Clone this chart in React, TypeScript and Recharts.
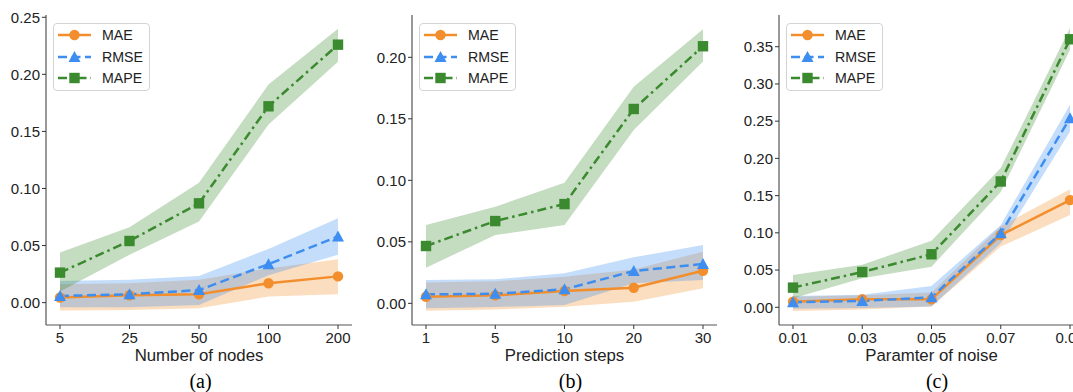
import { ComposedChart, Line, Area, XAxis, YAxis, Legend, Label } from 'recharts'

// (a) number of nodes
const nodeTicks = ['5', '25', '50', '100', '200']
const maeA = [0.0045, 0.0065, 0.0073, 0.017, 0.023]
const maeALow = [-0.007, -0.0065, -0.005, 0.0053, 0.0074]
const maeAHigh = [0.016, 0.017, 0.02, 0.03, 0.038]
const rmseA = [0.0059, 0.0073, 0.011, 0.0337, 0.058]
const rmseALow = [-0.004, -0.004, -0.002, 0.024, 0.042]
const rmseAHigh = [0.019, 0.02, 0.0234, 0.047, 0.074]
const mapeA = [0.0263, 0.054, 0.087, 0.172, 0.226]
const mapeALow = [0.0097, 0.042, 0.071, 0.156, 0.211]
const mapeAHigh = [0.044, 0.066, 0.105, 0.191, 0.24]

// (b) prediction steps
const stepTicks = ['1', '5', '10', '20', '30']
const maeB = [0.0054, 0.0065, 0.01, 0.0127, 0.0265]
const maeBLow = [-0.006, -0.005, -0.0028, 0.0013, 0.0122]
const maeBHigh = [0.017, 0.018, 0.0216, 0.0276, 0.042]
const rmseB = [0.0073, 0.0078, 0.0114, 0.0263, 0.032]
const rmseBLow = [-0.004, -0.003, -0.0014, 0.0163, 0.019]
const rmseBHigh = [0.019, 0.0195, 0.0244, 0.0374, 0.0474]
const mapeB = [0.0466, 0.0669, 0.0807, 0.158, 0.209]
const mapeBLow = [0.029, 0.0555, 0.0637, 0.141, 0.1965]
const mapeBHigh = [0.0637, 0.0785, 0.098, 0.176, 0.2228]

// (c) noise parameter
const noiseTicks = ['0.01', '0.03', '0.05', '0.07', '0.09']
const maeC = [0.0075, 0.0107, 0.0107, 0.097, 0.144]
const maeCLow = [-0.005, -0.003, 0.001, 0.0815, 0.124]
const maeCHigh = [0.014, 0.016, 0.02, 0.109, 0.1586]
const rmseC = [0.0067, 0.0085, 0.0134, 0.0994, 0.254]
const rmseCLow = [-0.002, -0.001, 0.001, 0.086, 0.236]
const rmseCHigh = [0.015, 0.017, 0.0286, 0.1106, 0.272]
const mapeC = [0.0264, 0.0474, 0.0712, 0.169, 0.36]
const mapeCLow = [0.012, 0.039, 0.0546, 0.155, 0.346]
const mapeCHigh = [0.0434, 0.057, 0.0895, 0.187, 0.375]

const ORANGE = '#f28e2b'
const BLUE = '#3d8ef0'
const GREEN = '#3b8a2f'
const SPINE = '#555'
const RMSE_DASH = '9 4.5'
const MAPE_DASH = '9 4 2.5 4'

function makeRows(cats: string[], s: number[][]) {
  return cats.map((x, i) => ({
    x,
    mae: s[0][i], maeBand: [s[1][i], s[2][i]],
    rmse: s[3][i], rmseBand: [s[4][i], s[5][i]],
    mape: s[6][i], mapeBand: [s[7][i], s[8][i]],
  }))
}

const rowsA = makeRows(nodeTicks, [maeA, maeALow, maeAHigh, rmseA, rmseALow, rmseAHigh, mapeA, mapeALow, mapeAHigh])
const rowsB = makeRows(stepTicks, [maeB, maeBLow, maeBHigh, rmseB, rmseBLow, rmseBHigh, mapeB, mapeBLow, mapeBHigh])
const rowsC = makeRows(noiseTicks, [maeC, maeCLow, maeCHigh, rmseC, rmseCLow, rmseCHigh, mapeC, mapeCLow, mapeCHigh])

const Circle = (p: any) => <circle key={p.index} cx={p.cx} cy={p.cy} r={5.2} fill={ORANGE} />
const Tri = (p: any) => (
  <polygon key={p.index} fill={BLUE}
    points={`${p.cx},${p.cy - 6} ${p.cx - 6},${p.cy + 5} ${p.cx + 6},${p.cy + 5}`} />
)
const Sq = (p: any) => <rect key={p.index} x={p.cx - 5.2} y={p.cy - 5.2} width={10.4} height={10.4} fill={GREEN} />

const legendItems = [
  { name: 'MAE', color: ORANGE, dash: undefined, shape: Circle },
  { name: 'RMSE', color: BLUE, dash: RMSE_DASH, shape: Tri },
  { name: 'MAPE', color: GREEN, dash: MAPE_DASH, shape: Sq },
]

function LegendBox() {
  return (
    <div style={{ width: 97, height: 68, boxSizing: 'border-box', border: '1px solid #d4d4d4', borderRadius: 4,
      background: 'rgba(255,255,255,0.85)', paddingTop: 1, paddingLeft: 4 }}>
      {legendItems.map(it => (
        <div key={it.name} style={{ display: 'flex', alignItems: 'center', height: 21.3 }}>
          <svg width={33} height={14} style={{ display: 'block' }}>
            <line x1={0} y1={7} x2={33} y2={7} stroke={it.color} strokeWidth={2.5} strokeDasharray={it.dash} />
            {it.shape({ cx: 16.5, cy: 7, index: 0 })}
          </svg>
          <span style={{ marginLeft: 11, fontSize: 14.2, color: '#222' }}>{it.name}</span>
        </div>
      ))}
    </div>
  )
}

type PanelProps = {
  rows: any[]; left: number; width: number; yw: number
  domain: [number, number]; ticks: number[]; xLabel: string; caption: string; capDx: number
}

function Panel({ rows, left, width, yw, domain, ticks, xLabel, caption, capDx }: PanelProps) {
  const axisText = { fontSize: 15, fill: '#222' }
  return (
    <div style={{ position: 'absolute', left, top: 0 }}>
      <ComposedChart width={width} height={392} data={rows} margin={{ top: 15, right: 8, bottom: 0, left: 0 }}>
        <XAxis dataKey="x" type="category" padding={{ left: 14, right: 14 }} height={67}
          tick={axisText} tickSize={4} tickMargin={3}
          axisLine={{ stroke: SPINE, strokeWidth: 1.2 }} tickLine={{ stroke: '#333' }}>
          <Label value={xLabel} position="insideTop" offset={24} style={{ fontSize: 16.8, fill: '#222' }} />
          <Label value={caption} position="insideTop" offset={49} dx={capDx}
            style={{ fontSize: 20, fill: '#000', fontFamily: '"Liberation Serif", "Times New Roman", serif' }} />
        </XAxis>
        <XAxis xAxisId="top" dataKey="x" orientation="top" height={0} tick={false} tickLine={false}
          axisLine={{ stroke: SPINE, strokeWidth: 1.2 }} />
        <YAxis type="number" domain={domain} ticks={ticks} allowDataOverflow width={yw}
          tick={axisText} tickSize={4} tickMargin={2} tickFormatter={(v: number) => v.toFixed(2)}
          axisLine={{ stroke: SPINE, strokeWidth: 1.2 }} tickLine={{ stroke: '#333' }} />
        <YAxis yAxisId="r" orientation="right" type="number" domain={[0, 1]} width={0} tick={false}
          tickLine={false} axisLine={{ stroke: SPINE, strokeWidth: 1.2 }} />
        <Area dataKey="maeBand" type="linear" fill={ORANGE} fillOpacity={0.3} stroke="none" dot={false} activeDot={false} isAnimationActive={false} />
        <Area dataKey="rmseBand" type="linear" fill={BLUE} fillOpacity={0.3} stroke="none" dot={false} activeDot={false} isAnimationActive={false} />
        <Area dataKey="mapeBand" type="linear" fill={GREEN} fillOpacity={0.3} stroke="none" dot={false} activeDot={false} isAnimationActive={false} />
        <Line dataKey="mae" type="linear" stroke={ORANGE} strokeWidth={2.5} dot={Circle} activeDot={false} isAnimationActive={false} />
        <Line dataKey="rmse" type="linear" stroke={BLUE} strokeWidth={2.5} strokeDasharray={RMSE_DASH} dot={Tri} activeDot={false} isAnimationActive={false} />
        <Line dataKey="mape" type="linear" stroke={GREEN} strokeWidth={2.5} strokeDasharray={MAPE_DASH} dot={Sq} activeDot={false} isAnimationActive={false} />
        <Legend layout="vertical" align="center" verticalAlign="middle" content={() => <LegendBox />}
          wrapperStyle={{ left: yw + 7, top: 22.7, width: 'auto' }} />
      </ComposedChart>
    </div>
  )
}

export default function App() {
  return (
    <div style={{ position: 'fixed', left: 0, top: 0, width: 1073, height: 392, overflow: 'hidden',
      background: '#fff', fontFamily: '"Liberation Sans", Arial, sans-serif' }}>
      <Panel rows={rowsA} left={0} width={360} yw={46} domain={[-0.0196, 0.252]}
        ticks={[0, 0.05, 0.1, 0.15, 0.2, 0.25]} xLabel="Number of nodes" caption="(a)" capDx={1.5} />
      <Panel rows={rowsB} left={360} width={365} yw={52} domain={[-0.0176, 0.2344]}
        ticks={[0, 0.05, 0.1, 0.15, 0.2]} xLabel="Prediction steps" caption="(b)" capDx={6} />
      <Panel rows={rowsC} left={720} width={372} yw={59} domain={[-0.0238, 0.3926]}
        ticks={[0, 0.05, 0.1, 0.15, 0.2, 0.25, 0.3, 0.35]} xLabel="Paramter of noise" caption="(c)" capDx={5.5} />
    </div>
  )
}
